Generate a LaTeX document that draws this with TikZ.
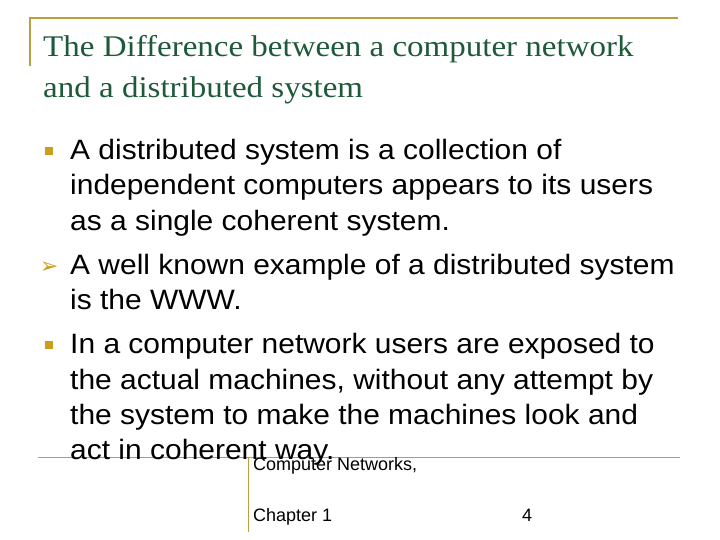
\documentclass[tikz,border=0pt]{standalone}
\usepackage{fontspec}
\setmainfont{Liberation Sans}
\newfontfamily\titlefont{Liberation Serif}
\newfontfamily\symfont{DejaVu Sans}
\definecolor{gold}{HTML}{B8A040}
\definecolor{titlegreen}{HTML}{1E5A3A}
\definecolor{bul}{HTML}{CC9E1E}
\begin{document}
\begin{tikzpicture}[x=1pt,y=1pt,
  ttl/.style={anchor=base west,inner sep=0,xscale=1.1,font=\titlefont\fontsize{30}{30}\selectfont,text=titlegreen},
  body/.style={anchor=base west,inner sep=0,xscale=1.07,font=\fontsize{28}{28}\selectfont},
  foot/.style={anchor=base west,inner sep=0,font=\fontsize{18}{18}\selectfont},
  rule/.style={draw=gold,line width=1.8pt}]
\useasboundingbox (0,0) rectangle (720,-540);
\coordinate (t1) at (30,-18); \coordinate (t2) at (678,-18); \coordinate (t3) at (30,-66);
\draw[rule] (t3) -- (t1) -- (t2);
\coordinate (b1) at (38,-457); \coordinate (b2) at (680,-457);
\coordinate (b3) at (248,-457); \coordinate (b4) at (248,-532);
\draw[draw=gold,line width=1pt] (b1) -- (b2);
\draw[draw=gold,line width=1pt] (b3) -- (b4);
\node[ttl] (h1) at (43,-57) {The Difference between a computer network};
\node[ttl] (h2) at (43,-98) {and a distributed system};
\node[fill=bul,minimum size=8pt,inner sep=0] (s1) at (49,-151) {};
\node[text=bul,anchor=base,inner sep=0,font=\symfont\fontsize{22}{22}\selectfont] (s2) at (49,-273) {➢};
\node[fill=bul,minimum size=8pt,inner sep=0] (s3) at (49,-345) {};
\node[body] (l1) at (70,-160) {A distributed system is a collection of};
\node[body] (l2) at (70,-195) {independent computers appears to its users};
\node[body] (l3) at (70,-230) {as a single coherent system.};
\node[body] (l4) at (70,-274) {A well known example of a distributed system};
\node[body] (l5) at (70,-309) {is the WWW.};
\node[body] (l6) at (70,-353) {In a computer network users are exposed to};
\node[body] (l7) at (70,-389) {the actual machines, without any attempt by};
\node[body] (l8) at (70,-424) {the system to make the machines look and};
\node[body] (l9) at (70,-459) {act in coherent way.};
\node[foot] (f1) at (253,-470) {Computer Networks,};
\node[foot] (f2) at (253,-521) {Chapter 1};
\node[foot] (f3) at (522,-521) {4};
\end{tikzpicture}
\end{document}
